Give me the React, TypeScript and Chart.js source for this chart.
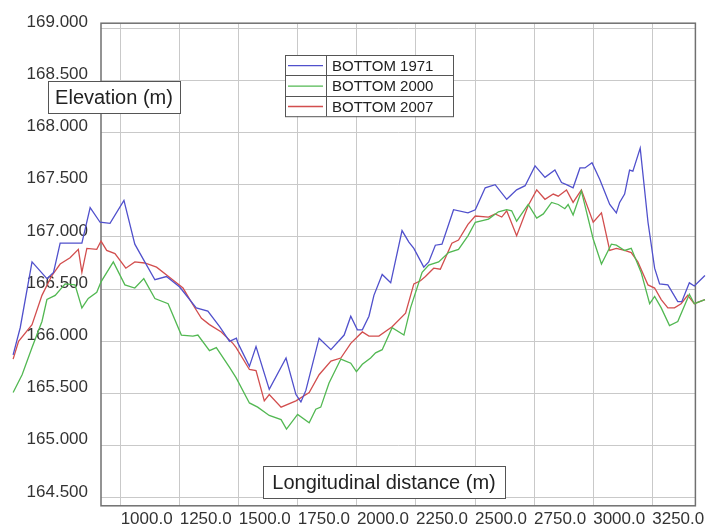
import React, { useEffect, useRef } from 'react';
import { Chart, registerables } from 'chart.js';

Chart.register(...registerables);

// Longitudinal distance (m) and bed elevation (m) for each survey
const distance1971 = [
  545, 575, 625, 688, 716, 744, 836, 871, 913, 955,
  1014, 1060, 1095, 1145, 1194, 1250, 1320, 1369, 1419, 1461,
  1490, 1497, 1545, 1573, 1629, 1700, 1742, 1763, 1784, 1840,
  1890, 1946, 1974, 2002, 2023, 2051, 2072, 2107, 2143, 2191,
  2220, 2241, 2283, 2304, 2332, 2360, 2409, 2470, 2501, 2543,
  2585, 2634, 2676, 2712, 2754, 2796, 2838, 2866, 2887, 2915,
  2944, 2965, 2995, 3028, 3070, 3098, 3112, 3133, 3154, 3168,
  3199, 3232, 3260, 3281, 3316, 3358, 3375, 3407, 3428, 3473,
];
const bottom1971 = [
  165.87, 166.13, 166.76, 166.60, 166.66, 166.94, 166.94, 167.28, 167.14, 167.13,
  167.35, 166.93, 166.79, 166.59, 166.62, 166.52, 166.32, 166.29, 166.14, 166.00,
  166.03, 165.98, 165.76, 165.95, 165.54, 165.84, 165.49, 165.42, 165.53, 166.03,
  165.92, 166.06, 166.24, 166.11, 166.11, 166.24, 166.44, 166.64, 166.56, 167.06,
  166.95, 166.89, 166.71, 166.76, 166.92, 166.93, 167.26, 167.23, 167.26, 167.47,
  167.50, 167.36, 167.45, 167.49, 167.68, 167.57, 167.64, 167.52, 167.50, 167.47,
  167.66, 167.66, 167.71, 167.55, 167.31, 167.23, 167.33, 167.41, 167.64, 167.63,
  167.85, 167.14, 166.70, 166.55, 166.54, 166.38, 166.38, 166.56, 166.53, 166.63,
];

const distance2000 = [
  545, 583, 625, 667, 688, 723, 765, 807, 836, 863,
  899, 917, 969, 1018, 1060, 1098, 1145, 1201, 1257, 1306,
  1327, 1376, 1405, 1461, 1489, 1545, 1580, 1629, 1679, 1702,
  1749, 1798, 1826, 1847, 1882, 1932, 1974, 1998, 2023, 2058,
  2079, 2107, 2149, 2199, 2227, 2276, 2304, 2346, 2388, 2430,
  2470, 2501, 2557, 2599, 2634, 2655, 2676, 2725, 2761, 2789,
  2824, 2852, 2880, 2894, 2915, 2950, 3000, 3035, 3077, 3098,
  3133, 3161, 3203, 3239, 3260, 3288, 3323, 3358, 3407, 3428,
  3473,
];
const bottom2000 = [
  165.51, 165.68, 165.94, 166.19, 166.40, 166.44, 166.55, 166.54, 166.32, 166.41,
  166.47, 166.57, 166.76, 166.54, 166.51, 166.60, 166.41, 166.36, 166.06, 166.05,
  166.06, 165.91, 165.94, 165.75, 165.65, 165.41, 165.37, 165.29, 165.25, 165.16,
  165.30, 165.22, 165.35, 165.37, 165.60, 165.83, 165.79, 165.71, 165.78, 165.84,
  165.89, 165.92, 166.13, 166.06, 166.32, 166.66, 166.73, 166.76, 166.85, 166.88,
  167.01, 167.14, 167.17, 167.24, 167.26, 167.25, 167.15, 167.31, 167.18, 167.22,
  167.33, 167.31, 167.27, 167.31, 167.21, 167.44, 166.98, 166.74, 166.93, 166.92,
  166.87, 166.89, 166.66, 166.36, 166.43, 166.32, 166.15, 166.19, 166.45, 166.36,
  166.40,
];

const distance2007 = [
  545, 568, 625, 667, 709, 744, 786, 821, 836, 857,
  899, 917, 941, 976, 1022, 1060, 1102, 1152, 1208, 1264,
  1306, 1342, 1376, 1426, 1475, 1489, 1545, 1573, 1608, 1629,
  1679, 1742, 1798, 1840, 1890, 1932, 1974, 2023, 2051, 2093,
  2149, 2206, 2241, 2269, 2290, 2325, 2353, 2402, 2430, 2470,
  2501, 2557, 2585, 2613, 2634, 2676, 2725, 2761, 2796, 2831,
  2852, 2887, 2915, 2950, 3000, 3035, 3070, 3098, 3133, 3161,
  3189, 3232, 3260, 3288, 3316, 3344, 3372, 3400, 3428, 3473,
];
const bottom2007 = [
  165.83, 166.00, 166.16, 166.44, 166.63, 166.74, 166.80, 166.88, 166.66, 166.89,
  166.88, 166.96, 166.87, 166.84, 166.70, 166.76, 166.75, 166.71, 166.61, 166.51,
  166.35, 166.22, 166.16, 166.09, 165.98, 165.94, 165.73, 165.72, 165.43, 165.49,
  165.37, 165.43, 165.51, 165.68, 165.81, 165.84, 165.98, 166.09, 166.05, 166.05,
  166.14, 166.27, 166.55, 166.58, 166.62, 166.70, 166.69, 166.94, 166.97, 167.12,
  167.20, 167.19, 167.22, 167.19, 167.25, 167.01, 167.30, 167.45, 167.36, 167.41,
  167.39, 167.45, 167.33, 167.45, 167.14, 167.23, 166.87, 166.89, 166.87, 166.85,
  166.76, 166.54, 166.51, 166.40, 166.32, 166.32, 166.36, 166.44, 166.36, 166.40,
];

const seriesLabels = ['BOTTOM 1971', 'BOTTOM 2000', 'BOTTOM 2007'];
const seriesColors = ['#5050cc', '#52b852', '#d24e4e'];
const xTickValues = [1000, 1250, 1500, 1750, 2000, 2250, 2500, 2750, 3000, 3250];
const yTickValues = [164.5, 165.0, 165.5, 166.0, 166.5, 167.0, 167.5, 168.0, 168.5, 169.0];
const xRange = [916.9, 3432.6];
const yRange = [164.425, 169.046];
const xTitle = 'Longitudinal distance (m)';
const yTitle = 'Elevation (m)';

const FONT = "'Liberation Sans', Arial, sans-serif";

const toPoints = (xs: number[], ys: number[]) => xs.map((x, i) => ({ x, y: ys[i] }));

const overlayPlugin = {
  id: 'overlay',
  beforeDatasetsDraw(chart: any) {
    const { ctx, chartArea: a } = chart;
    ctx.save();
    ctx.strokeStyle = '#707070';
    ctx.lineWidth = 1.5;
    ctx.strokeRect(a.left, a.top, a.right - a.left, a.bottom - a.top);
    ctx.restore();
  },
  afterDatasetsDraw(chart: any) {
    const { ctx } = chart;
    const box = (text: string, x: number, y: number, w: number, h: number) => {
      ctx.save();
      ctx.fillStyle = '#ffffff';
      ctx.fillRect(x, y, w, h);
      ctx.strokeStyle = '#555555';
      ctx.lineWidth = 1;
      ctx.strokeRect(x + 0.5, y + 0.5, w, h);
      ctx.fillStyle = '#222222';
      ctx.font = `20px ${FONT}`;
      ctx.textAlign = 'center';
      ctx.textBaseline = 'middle';
      ctx.fillText(text, x + w / 2, y + h / 2 + 1);
      ctx.restore();
    };
    box(yTitle, 48, 81, 132, 32);
    box(xTitle, 263, 466, 242, 32);

    // legend table
    const lx = 285, ly = 55, lw = 168, rowH = 20.4, sampleW = 41;
    const datasets = chart.data.datasets;
    ctx.save();
    ctx.fillStyle = '#ffffff';
    ctx.fillRect(lx, ly, lw, rowH * datasets.length);
    ctx.strokeStyle = '#555555';
    ctx.lineWidth = 1;
    ctx.strokeRect(lx + 0.5, ly + 0.5, lw, rowH * datasets.length);
    ctx.beginPath();
    ctx.moveTo(lx + sampleW + 0.5, ly);
    ctx.lineTo(lx + sampleW + 0.5, ly + rowH * datasets.length);
    for (let i = 1; i < datasets.length; i++) {
      ctx.moveTo(lx, Math.round(ly + rowH * i) + 0.5);
      ctx.lineTo(lx + lw, Math.round(ly + rowH * i) + 0.5);
    }
    ctx.stroke();
    ctx.font = `15px ${FONT}`;
    ctx.textBaseline = 'middle';
    ctx.textAlign = 'left';
    datasets.forEach((ds: any, i: number) => {
      const cy = ly + rowH * i + rowH / 2 + 0.5;
      ctx.strokeStyle = ds.borderColor;
      ctx.lineWidth = 1.3;
      ctx.beginPath();
      ctx.moveTo(lx + 3, cy);
      ctx.lineTo(lx + sampleW - 3, cy);
      ctx.stroke();
      ctx.fillStyle = '#222222';
      ctx.fillText(ds.label, lx + sampleW + 6, cy + 1);
    });
    ctx.restore();
  },
};

const fixRange = (range: number[]) => (axis: any) => {
  axis.min = range[0];
  axis.max = range[1];
};

export default function App() {
  const canvasRef = useRef<HTMLCanvasElement | null>(null);

  useEffect(() => {
    const canvas = canvasRef.current;
    if (!canvas) return;
    const seriesX = [distance1971, distance2000, distance2007];
    const seriesY = [bottom1971, bottom2000, bottom2007];
    const chart = new Chart(canvas, {
      type: 'line',
      data: {
        datasets: seriesLabels.map((label, i) => ({
          label,
          data: toPoints(seriesX[i], seriesY[i]),
          borderColor: seriesColors[i],
          backgroundColor: seriesColors[i],
          borderWidth: 1.3,
          pointRadius: 0,
          tension: 0,
          fill: false,
          clip: false as any,
        })),
      },
      options: {
        animation: false,
        responsive: false,
        devicePixelRatio: 1,
        layout: { padding: { top: 19, right: 10.3, left: 0, bottom: 0 } },
        plugins: {
          legend: { display: false },
          title: { display: false },
          tooltip: { enabled: false },
        },
        scales: {
          x: {
            type: 'linear',
            bounds: 'data',
            afterDataLimits: fixRange(xRange),
            afterBuildTicks: (axis: any) => {
              axis.ticks = xTickValues.map((v) => ({ value: v }));
              fixRange(xRange)(axis);
            },
            afterFit: (axis: any) => {
              axis.height = 23;
            },
            grid: { color: '#c9c9c9', lineWidth: 1, drawTicks: false },
            border: { display: false },
            ticks: {
              autoSkip: false,
              maxRotation: 0,
              minRotation: 0,
              align: 'start',
              padding: 3,
              color: '#333333',
              font: { family: FONT, size: 17 },
              callback: (v: any) => Number(v).toFixed(1),
            },
          },
          y: {
            type: 'linear',
            bounds: 'data',
            afterDataLimits: fixRange(yRange),
            afterBuildTicks: (axis: any) => {
              axis.ticks = yTickValues.map((v) => ({ value: v }));
              fixRange(yRange)(axis);
            },
            afterFit: (axis: any) => {
              axis.width = 101;
            },
            grid: { color: '#c9c9c9', lineWidth: 1, drawTicks: false },
            border: { display: false },
            ticks: {
              autoSkip: false,
              padding: 13,
              labelOffset: -6,
              color: '#333333',
              font: { family: FONT, size: 17 },
              callback: (v: any) => Number(v).toFixed(3),
            },
          },
        },
      },
      plugins: [overlayPlugin],
    } as any);
    return () => chart.destroy();
  }, []);

  return (
    <div style={{ position: 'absolute', left: 0, top: 0, width: 708, height: 529, background: '#ffffff' }}>
      <canvas ref={canvasRef} width={708} height={529} style={{ width: 708, height: 529, display: 'block' }} />
    </div>
  );
}
